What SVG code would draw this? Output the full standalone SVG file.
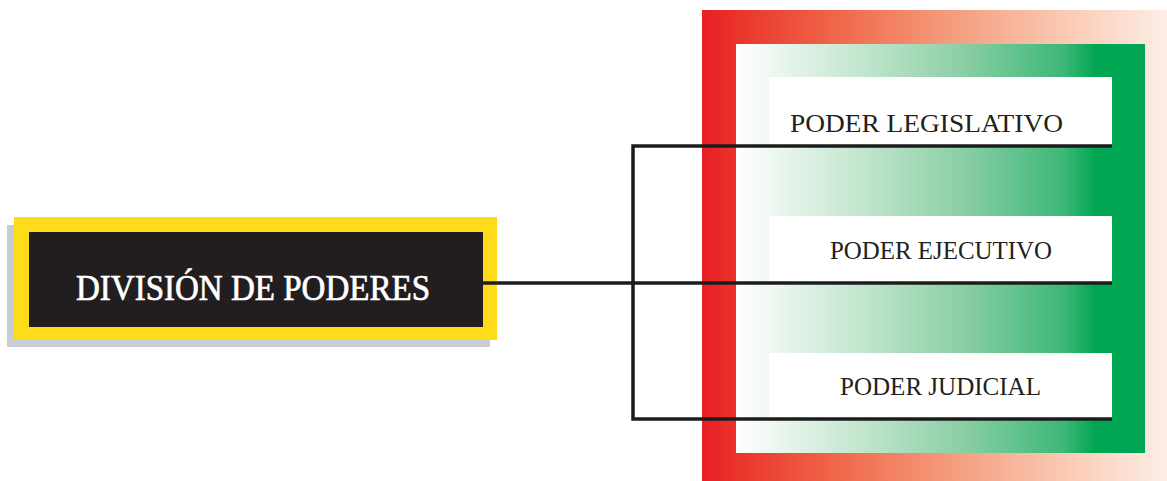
<svg xmlns="http://www.w3.org/2000/svg" width="1167" height="481" viewBox="0 0 1167 481">
<defs>
<linearGradient id="redG" x1="702" y1="0" x2="1167" y2="0" gradientUnits="userSpaceOnUse">
<stop offset="0" stop-color="#e81f26"/>
<stop offset="0.1" stop-color="#ea3a2e"/>
<stop offset="0.3" stop-color="#f06a4c"/>
<stop offset="0.55" stop-color="#f59f80"/>
<stop offset="0.8" stop-color="#fbcdb8"/>
<stop offset="1" stop-color="#fdeee6"/>
</linearGradient>
<linearGradient id="greenG" x1="736" y1="0" x2="1145" y2="0" gradientUnits="userSpaceOnUse">
<stop offset="0" stop-color="#ffffff"/>
<stop offset="0.3" stop-color="#c4e6cf"/>
<stop offset="0.55" stop-color="#8ccfa6"/>
<stop offset="0.8" stop-color="#3db878"/>
<stop offset="0.88" stop-color="#00a651"/>
<stop offset="1" stop-color="#00a651"/>
</linearGradient>
<style>
.box{fill:#ffffff}
.lbl{font-family:"Liberation Serif","DejaVu Serif",serif;font-size:25px;fill:#231f20}
.conn{stroke:#1c1c1c;stroke-width:3.5;fill:none}
</style>
</defs>
<g id="frame">
<rect x="702" y="10" width="465" height="471" fill="url(#redG)"/>
<rect x="736" y="44" width="409" height="409" fill="url(#greenG)"/>
</g>
<g id="division">
<rect x="7" y="225" width="483" height="122" fill="#c9ccd3"/>
<rect x="14" y="217" width="483" height="123" fill="#fddc1c"/>
<rect x="29" y="232" width="454" height="95" fill="#221e1f"/>
<text x="76" y="300" font-family="Liberation Serif, DejaVu Serif, serif" font-size="35" fill="#ffffff" stroke="#ffffff" stroke-width="0.7" textLength="354" lengthAdjust="spacingAndGlyphs">DIVISIÓN DE PODERES</text>
</g>
<g id="legislativo">
<rect class="box" x="769" y="77" width="343" height="68"/>
<text class="lbl" x="790" y="132" textLength="273" lengthAdjust="spacingAndGlyphs">PODER LEGISLATIVO</text>
</g>
<g id="ejecutivo">
<rect class="box" x="769" y="216" width="343" height="66"/>
<text class="lbl" x="830" y="259" textLength="222" lengthAdjust="spacingAndGlyphs">PODER EJECUTIVO</text>
</g>
<g id="judicial">
<rect class="box" x="769" y="353" width="343" height="65"/>
<text class="lbl" x="840" y="395" textLength="201" lengthAdjust="spacingAndGlyphs">PODER JUDICIAL</text>
</g>
<g id="connectors">
<path class="conn" d="M483 283 H1112"/>
<path class="conn" d="M1112 146 H633 V419 H1112"/>
</g>
</svg>
